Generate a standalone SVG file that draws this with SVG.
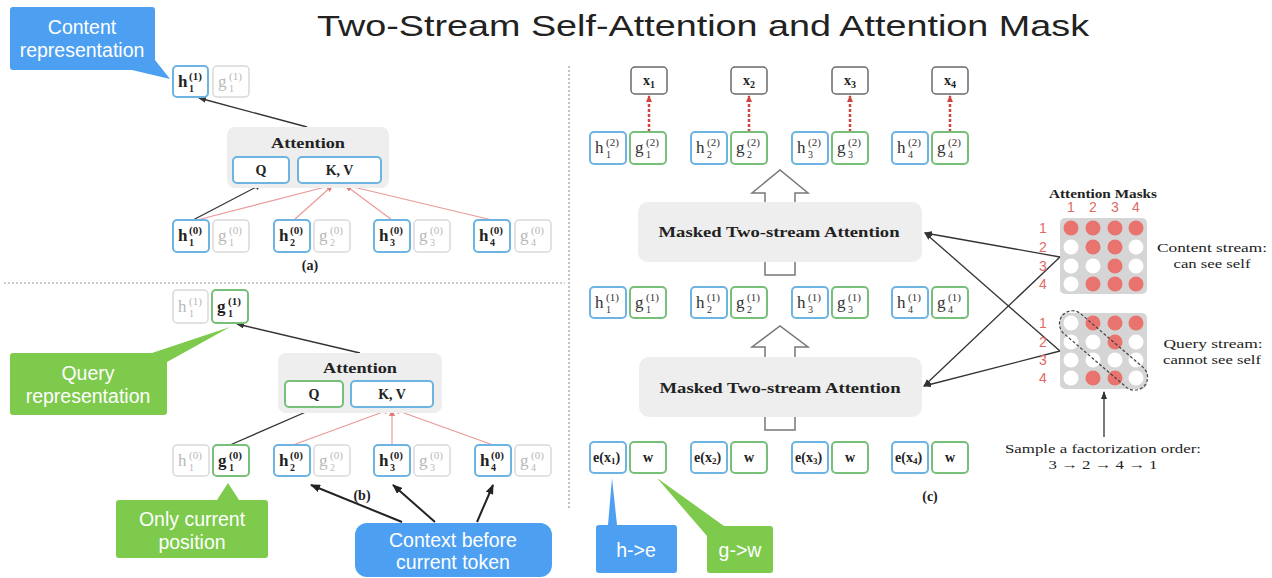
<svg xmlns="http://www.w3.org/2000/svg" width="1272" height="578" viewBox="0 0 1272 578">
<defs>
<style>
.hb{fill:#fff;stroke:#6db4e2;stroke-width:2}
.gb{fill:#fff;stroke:#78c07a;stroke-width:2}
.fb{fill:#fff;stroke:#d9d9d9;stroke-width:1.5}
.xb{fill:#fff;stroke:#6a6a6a;stroke-width:1.5}
.att{fill:#eeeeee}
.m{font-family:"Liberation Serif",serif;font-weight:bold;font-size:17px;fill:#222}
.sp{font-family:"Liberation Serif",serif;font-weight:bold;font-size:11px;fill:#222}
.sb{font-family:"Liberation Serif",serif;font-weight:bold;font-size:10px;fill:#222}
.fd{fill:#b8b8b8;font-weight:normal}
.nw{fill:#333;font-weight:normal}
.lb{font-family:"Liberation Serif",serif;font-weight:bold;font-size:14px;fill:#222}
.ser{font-family:"Liberation Serif",serif;font-size:13.5px;fill:#222}
.call{font-family:"Liberation Sans",sans-serif;font-size:19.5px;fill:#fff;text-anchor:middle}
.blk{stroke:#333;stroke-width:1.3;fill:none}
.red{stroke:#e99a98;stroke-width:1.2;fill:none}
.thick{stroke:#222;stroke-width:2;fill:none}
.rdash{stroke:#d0463f;stroke-width:2.5;stroke-dasharray:3 2;fill:none}
.sep{stroke:#9a9a9a;stroke-width:1.2;stroke-dasharray:2 2;fill:none}
.num{font-family:"Liberation Sans",sans-serif;font-size:14px;fill:#e06a66;text-anchor:middle}
.rc{fill:#e8736f}
.wc{fill:#fff}
</style>
<marker id="ab" markerWidth="8" markerHeight="6" refX="7" refY="3" orient="auto" markerUnits="userSpaceOnUse"><path d="M0,0 L8,3 L0,6 z" fill="#333"/></marker>
<marker id="ar" markerWidth="8" markerHeight="6" refX="7" refY="3" orient="auto" markerUnits="userSpaceOnUse"><path d="M0,0 L8,3 L0,6 z" fill="#e07c7a"/></marker>
<marker id="ard" markerWidth="7" markerHeight="6" refX="6" refY="3" orient="auto" markerUnits="userSpaceOnUse"><path d="M0,0 L7,3 L0,6 z" fill="#d0463f"/></marker>
<marker id="abk" markerWidth="10" markerHeight="8" refX="9" refY="4" orient="auto" markerUnits="userSpaceOnUse"><path d="M0,0 L10,4 L0,8 z" fill="#222"/></marker>
</defs>

<text x="703" y="36" font-family="'Liberation Sans',sans-serif" font-size="30" fill="#222" text-anchor="middle" textLength="772" lengthAdjust="spacingAndGlyphs">Two-Stream Self-Attention and Attention Mask</text>

<!-- separators -->
<g id="separators">
<line class="sep" x1="4" y1="283" x2="565" y2="283"/>
<line class="sep" x1="569" y1="66" x2="569" y2="510"/>
</g>

<!-- connectors -->
<g id="connectors">
<line class="blk" x1="307" y1="127" x2="199" y2="98" marker-end="url(#ab)"/>
<line class="blk" x1="193" y1="220" x2="262" y2="184" marker-end="url(#ab)"/>
<line class="red" x1="197" y1="220" x2="333" y2="185" marker-end="url(#ar)"/>
<line class="red" x1="294" y1="220" x2="333" y2="185" marker-end="url(#ar)"/>
<line class="red" x1="392" y1="220" x2="345" y2="185" marker-end="url(#ar)"/>
<line class="red" x1="492" y1="220" x2="345" y2="185" marker-end="url(#ar)"/>

<line class="blk" x1="360" y1="353" x2="237" y2="324" marker-end="url(#ab)"/>
<line class="blk" x1="230" y1="445" x2="315" y2="408" marker-end="url(#ab)"/>
<line class="red" x1="293" y1="445" x2="391" y2="409" marker-end="url(#ar)"/>
<line class="red" x1="392" y1="445" x2="392" y2="409" marker-end="url(#ar)"/>
<line class="red" x1="493" y1="445" x2="393" y2="409" marker-end="url(#ar)"/>

<line class="thick" x1="402" y1="522" x2="311" y2="485" marker-end="url(#abk)"/>
<line class="thick" x1="435" y1="522" x2="393" y2="485" marker-end="url(#abk)"/>
<line class="thick" x1="477" y1="522" x2="493" y2="485" marker-end="url(#abk)"/>

<line class="rdash" x1="649" y1="132" x2="649" y2="96" marker-end="url(#ard)"/>
<line class="rdash" x1="749" y1="132" x2="749" y2="96" marker-end="url(#ard)"/>
<line class="rdash" x1="850" y1="132" x2="850" y2="96" marker-end="url(#ard)"/>
<line class="rdash" x1="950" y1="132" x2="950" y2="96" marker-end="url(#ard)"/>

<polygon points="765,275 765,193 752,193 780,170 808,193 795,193 795,275" fill="#fff" stroke="#777" stroke-width="1.5"/>
<polygon points="765,430 765,347 752,347 780,326 808,347 795,347 795,430" fill="#fff" stroke="#777" stroke-width="1.5"/>

<line class="blk" x1="1060" y1="257" x2="925" y2="233" marker-end="url(#ab)"/>
<line class="blk" x1="1060" y1="351" x2="925" y2="233" marker-end="url(#ab)"/>
<line class="blk" x1="1060" y1="257" x2="924" y2="386" marker-end="url(#ab)"/>
<line class="blk" x1="1060" y1="351" x2="924" y2="386" marker-end="url(#ab)"/>
<line class="blk" x1="1104" y1="437" x2="1104" y2="392" marker-end="url(#ab)"/>
</g>

<!-- callouts -->
<g id="callout-content">
<path d="M13,7 H152 Q155,7 155,10 V60 L170,79 L132,70 H13 Q10,70 10,67 V10 Q10,7 13,7 Z" fill="#4d9ff2"/>
<text class="call" x="82" y="34">Content</text>
<text class="call" x="82" y="57">representation</text>
</g>
<g id="callout-query">
<path d="M13,353 H152 L230,327 L167,362 V412 Q167,415 164,415 H13 Q10,415 10,412 V356 Q10,353 13,353 Z" fill="#7dca4c"/>
<text class="call" x="88" y="380">Query</text>
<text class="call" x="88" y="403">representation</text>
</g>
<g id="callout-only">
<path d="M119,500 H217 L228,483 L239,500 H265 Q268,500 268,503 V555 Q268,558 265,558 H119 Q116,558 116,555 V503 Q116,500 119,500 Z" fill="#7dca4c"/>
<text class="call" x="192" y="526">Only current</text>
<text class="call" x="192" y="549">position</text>
</g>
<g id="callout-context">
<rect x="355" y="523" width="197" height="54" rx="12" fill="#4d9ff2"/>
<text class="call" x="453" y="547">Context before</text>
<text class="call" x="453" y="569">current token</text>
</g>
<g id="callout-he">
<path d="M608,525 L612,478 L617,525 H674 Q677,525 677,528 V570 Q677,573 674,573 H599 Q596,573 596,570 V528 Q596,525 599,525 Z" fill="#4d9ff2"/>
<text class="call" x="636" y="557">h-&gt;e</text>
</g>
<g id="callout-gw">
<path d="M657,478 L724,526 H770 Q773,526 773,529 V570 Q773,573 770,573 H710 Q707,573 707,570 V536 Z" fill="#7dca4c"/>
<text class="call" x="740" y="557">g-&gt;w</text>
</g>

<!-- (a) -->
<g id="a-attention">
<rect class="att" x="227" y="127" width="162" height="61" rx="8"/>
<text class="lb" x="308" y="148" text-anchor="middle" font-size="15" textLength="74" lengthAdjust="spacingAndGlyphs">Attention</text>
<rect class="hb" x="233" y="157" width="56" height="26" rx="4"/>
<text class="lb" x="261" y="175" text-anchor="middle">Q</text>
<rect class="hb" x="298" y="157" width="83" height="26" rx="4"/>
<text class="lb" x="339.5" y="175" text-anchor="middle">K, V</text>
</g>
<g id="a-h1-1"><rect class="hb" x="173" y="66" width="35" height="31" rx="4"/><text class="m" x="178" y="87">h</text><text class="sp" x="189" y="80">(1)</text><text class="sb" x="189" y="92">1</text></g>
<g id="a-g1-1"><rect class="fb" x="213" y="66" width="36" height="31" rx="4"/><text class="m fd" x="218" y="87">g</text><text class="sp fd" x="229" y="80">(1)</text><text class="sb fd" x="229" y="92">1</text></g>
<g id="a-h1-0"><rect class="hb" x="173" y="220" width="36" height="32" rx="4"/><text class="m" x="178" y="241">h</text><text class="sp" x="189" y="234">(0)</text><text class="sb" x="189" y="246">1</text></g>
<g id="a-g1-0"><rect class="fb" x="213" y="220" width="36" height="32" rx="4"/><text class="m fd" x="218" y="241">g</text><text class="sp fd" x="229" y="234">(0)</text><text class="sb fd" x="229" y="246">1</text></g>
<g id="a-h2-0"><rect class="hb" x="274" y="220" width="36" height="32" rx="4"/><text class="m" x="279" y="241">h</text><text class="sp" x="290" y="234">(0)</text><text class="sb" x="290" y="246">2</text></g>
<g id="a-g2-0"><rect class="fb" x="314" y="220" width="36" height="32" rx="4"/><text class="m fd" x="319" y="241">g</text><text class="sp fd" x="330" y="234">(0)</text><text class="sb fd" x="330" y="246">2</text></g>
<g id="a-h3-0"><rect class="hb" x="374" y="220" width="36" height="32" rx="4"/><text class="m" x="379" y="241">h</text><text class="sp" x="390" y="234">(0)</text><text class="sb" x="390" y="246">3</text></g>
<g id="a-g3-0"><rect class="fb" x="414" y="220" width="36" height="32" rx="4"/><text class="m fd" x="419" y="241">g</text><text class="sp fd" x="430" y="234">(0)</text><text class="sb fd" x="430" y="246">3</text></g>
<g id="a-h4-0"><rect class="hb" x="474" y="220" width="36" height="32" rx="4"/><text class="m" x="479" y="241">h</text><text class="sp" x="490" y="234">(0)</text><text class="sb" x="490" y="246">4</text></g>
<g id="a-g4-0"><rect class="fb" x="515" y="220" width="36" height="32" rx="4"/><text class="m fd" x="520" y="241">g</text><text class="sp fd" x="531" y="234">(0)</text><text class="sb fd" x="531" y="246">4</text></g>
<text class="lb" x="310" y="270" text-anchor="middle" font-size="13">(a)</text>

<!-- (b) -->
<g id="b-attention">
<rect class="att" x="278" y="353" width="164" height="60" rx="8"/>
<text class="lb" x="360" y="373" text-anchor="middle" font-size="15" textLength="74" lengthAdjust="spacingAndGlyphs">Attention</text>
<rect class="gb" x="285" y="381" width="58" height="26" rx="4"/>
<text class="lb" x="314" y="399" text-anchor="middle">Q</text>
<rect class="hb" x="351" y="381" width="82" height="26" rx="4"/>
<text class="lb" x="392" y="399" text-anchor="middle">K, V</text>
</g>
<g id="b-h1-1"><rect class="fb" x="173" y="290" width="35" height="33" rx="4"/><text class="m fd" x="178" y="312">h</text><text class="sp fd" x="189" y="305">(1)</text><text class="sb fd" x="189" y="317">1</text></g>
<g id="b-g1-1"><rect class="gb" x="212" y="290" width="36" height="33" rx="4"/><text class="m" x="217" y="312">g</text><text class="sp" x="228" y="305">(1)</text><text class="sb" x="228" y="317">1</text></g>
<g id="b-h1-0"><rect class="fb" x="173" y="445" width="36" height="31" rx="4"/><text class="m fd" x="178" y="466">h</text><text class="sp fd" x="189" y="459">(0)</text><text class="sb fd" x="189" y="471">1</text></g>
<g id="b-g1-0"><rect class="gb" x="213" y="445" width="36" height="31" rx="4"/><text class="m" x="218" y="466">g</text><text class="sp" x="229" y="459">(0)</text><text class="sb" x="229" y="471">1</text></g>
<g id="b-h2-0"><rect class="hb" x="274" y="445" width="36" height="31" rx="4"/><text class="m" x="279" y="466">h</text><text class="sp" x="290" y="459">(0)</text><text class="sb" x="290" y="471">2</text></g>
<g id="b-g2-0"><rect class="fb" x="314" y="445" width="36" height="31" rx="4"/><text class="m fd" x="319" y="466">g</text><text class="sp fd" x="330" y="459">(0)</text><text class="sb fd" x="330" y="471">2</text></g>
<g id="b-h3-0"><rect class="hb" x="374" y="445" width="36" height="31" rx="4"/><text class="m" x="379" y="466">h</text><text class="sp" x="390" y="459">(0)</text><text class="sb" x="390" y="471">3</text></g>
<g id="b-g3-0"><rect class="fb" x="414" y="445" width="36" height="31" rx="4"/><text class="m fd" x="419" y="466">g</text><text class="sp fd" x="430" y="459">(0)</text><text class="sb fd" x="430" y="471">3</text></g>
<g id="b-h4-0"><rect class="hb" x="475" y="445" width="36" height="31" rx="4"/><text class="m" x="480" y="466">h</text><text class="sp" x="491" y="459">(0)</text><text class="sb" x="491" y="471">4</text></g>
<g id="b-g4-0"><rect class="fb" x="515" y="445" width="36" height="31" rx="4"/><text class="m fd" x="520" y="466">g</text><text class="sp fd" x="531" y="459">(0)</text><text class="sb fd" x="531" y="471">4</text></g>
<text class="lb" x="362" y="500" text-anchor="middle" font-size="13">(b)</text>

<!-- (c) -->
<g id="c-x1"><rect class="xb" x="631" y="67" width="36" height="27" rx="4"/><text class="lb" x="643" y="85" font-size="15">x<tspan font-size="10" dy="3">1</tspan></text></g>
<g id="c-x2"><rect class="xb" x="731" y="67" width="36" height="27" rx="4"/><text class="lb" x="743" y="85" font-size="15">x<tspan font-size="10" dy="3">2</tspan></text></g>
<g id="c-x3"><rect class="xb" x="832" y="67" width="36" height="27" rx="4"/><text class="lb" x="844" y="85" font-size="15">x<tspan font-size="10" dy="3">3</tspan></text></g>
<g id="c-x4"><rect class="xb" x="932" y="67" width="36" height="27" rx="4"/><text class="lb" x="944" y="85" font-size="15">x<tspan font-size="10" dy="3">4</tspan></text></g>

<g id="c-h1-2"><rect class="hb" x="590" y="132" width="36" height="32" rx="4"/><text class="m nw" x="595" y="153">h</text><text class="sp nw" x="606" y="146">(2)</text><text class="sb nw" x="606" y="158">1</text></g>
<g id="c-g1-2"><rect class="gb" x="630" y="132" width="36" height="32" rx="4"/><text class="m nw" x="635" y="153">g</text><text class="sp nw" x="646" y="146">(2)</text><text class="sb nw" x="646" y="158">1</text></g>
<g id="c-h2-2"><rect class="hb" x="691" y="132" width="36" height="32" rx="4"/><text class="m nw" x="696" y="153">h</text><text class="sp nw" x="707" y="146">(2)</text><text class="sb nw" x="707" y="158">2</text></g>
<g id="c-g2-2"><rect class="gb" x="731" y="132" width="36" height="32" rx="4"/><text class="m nw" x="736" y="153">g</text><text class="sp nw" x="747" y="146">(2)</text><text class="sb nw" x="747" y="158">2</text></g>
<g id="c-h3-2"><rect class="hb" x="792" y="132" width="36" height="32" rx="4"/><text class="m nw" x="797" y="153">h</text><text class="sp nw" x="808" y="146">(2)</text><text class="sb nw" x="808" y="158">3</text></g>
<g id="c-g3-2"><rect class="gb" x="832" y="132" width="36" height="32" rx="4"/><text class="m nw" x="837" y="153">g</text><text class="sp nw" x="848" y="146">(2)</text><text class="sb nw" x="848" y="158">3</text></g>
<g id="c-h4-2"><rect class="hb" x="892" y="132" width="36" height="32" rx="4"/><text class="m nw" x="897" y="153">h</text><text class="sp nw" x="908" y="146">(2)</text><text class="sb nw" x="908" y="158">4</text></g>
<g id="c-g4-2"><rect class="gb" x="932" y="132" width="36" height="32" rx="4"/><text class="m nw" x="937" y="153">g</text><text class="sp nw" x="948" y="146">(2)</text><text class="sb nw" x="948" y="158">4</text></g>

<g id="c-masked-2">
<rect class="att" x="638" y="202" width="284" height="60" rx="10"/>
<text class="lb" x="779" y="237" text-anchor="middle" font-size="15" textLength="241" lengthAdjust="spacingAndGlyphs">Masked Two-stream Attention</text>
</g>

<g id="c-h1-1"><rect class="hb" x="590" y="287" width="36" height="31" rx="4"/><text class="m nw" x="595" y="308">h</text><text class="sp nw" x="606" y="301">(1)</text><text class="sb nw" x="606" y="313">1</text></g>
<g id="c-g1-1"><rect class="gb" x="630" y="287" width="36" height="31" rx="4"/><text class="m nw" x="635" y="308">g</text><text class="sp nw" x="646" y="301">(1)</text><text class="sb nw" x="646" y="313">1</text></g>
<g id="c-h2-1"><rect class="hb" x="691" y="287" width="36" height="31" rx="4"/><text class="m nw" x="696" y="308">h</text><text class="sp nw" x="707" y="301">(1)</text><text class="sb nw" x="707" y="313">2</text></g>
<g id="c-g2-1"><rect class="gb" x="731" y="287" width="36" height="31" rx="4"/><text class="m nw" x="736" y="308">g</text><text class="sp nw" x="747" y="301">(1)</text><text class="sb nw" x="747" y="313">2</text></g>
<g id="c-h3-1"><rect class="hb" x="792" y="287" width="36" height="31" rx="4"/><text class="m nw" x="797" y="308">h</text><text class="sp nw" x="808" y="301">(1)</text><text class="sb nw" x="808" y="313">3</text></g>
<g id="c-g3-1"><rect class="gb" x="832" y="287" width="36" height="31" rx="4"/><text class="m nw" x="837" y="308">g</text><text class="sp nw" x="848" y="301">(1)</text><text class="sb nw" x="848" y="313">3</text></g>
<g id="c-h4-1"><rect class="hb" x="892" y="287" width="36" height="31" rx="4"/><text class="m nw" x="897" y="308">h</text><text class="sp nw" x="908" y="301">(1)</text><text class="sb nw" x="908" y="313">4</text></g>
<g id="c-g4-1"><rect class="gb" x="932" y="287" width="36" height="31" rx="4"/><text class="m nw" x="937" y="308">g</text><text class="sp nw" x="948" y="301">(1)</text><text class="sb nw" x="948" y="313">4</text></g>

<g id="c-masked-1">
<rect class="att" x="639" y="357" width="283" height="60" rx="10"/>
<text class="lb" x="780" y="393" text-anchor="middle" font-size="15" textLength="241" lengthAdjust="spacingAndGlyphs">Masked Two-stream Attention</text>
</g>

<g id="c-e1"><rect class="hb" x="590" y="442" width="36" height="31" rx="4"/><text class="lb" x="593" y="462" font-size="13">e(x<tspan font-size="9" dy="2">1</tspan><tspan dy="-2">)</tspan></text></g>
<g id="c-w1"><rect class="gb" x="630" y="442" width="36" height="31" rx="4"/><text class="lb" x="648" y="462" text-anchor="middle">w</text></g>
<g id="c-e2"><rect class="hb" x="691" y="442" width="36" height="31" rx="4"/><text class="lb" x="694" y="462" font-size="13">e(x<tspan font-size="9" dy="2">2</tspan><tspan dy="-2">)</tspan></text></g>
<g id="c-w2"><rect class="gb" x="731" y="442" width="36" height="31" rx="4"/><text class="lb" x="749" y="462" text-anchor="middle">w</text></g>
<g id="c-e3"><rect class="hb" x="792" y="442" width="36" height="31" rx="4"/><text class="lb" x="795" y="462" font-size="13">e(x<tspan font-size="9" dy="2">3</tspan><tspan dy="-2">)</tspan></text></g>
<g id="c-w3"><rect class="gb" x="832" y="442" width="36" height="31" rx="4"/><text class="lb" x="850" y="462" text-anchor="middle">w</text></g>
<g id="c-e4"><rect class="hb" x="892" y="442" width="36" height="31" rx="4"/><text class="lb" x="895" y="462" font-size="13">e(x<tspan font-size="9" dy="2">4</tspan><tspan dy="-2">)</tspan></text></g>
<g id="c-w4"><rect class="gb" x="932" y="442" width="36" height="31" rx="4"/><text class="lb" x="950" y="462" text-anchor="middle">w</text></g>
<text class="lb" x="930" y="501" text-anchor="middle" font-size="13">(c)</text>

<!-- attention masks -->
<g id="masks-title">
<text class="ser" x="1103" y="198" text-anchor="middle" font-weight="bold" textLength="108" lengthAdjust="spacingAndGlyphs">Attention Masks</text>
<text class="num" x="1071" y="212">1</text><text class="num" x="1093" y="212">2</text><text class="num" x="1115" y="212">3</text><text class="num" x="1136" y="212">4</text>
</g>
<g id="mask-content">
<rect x="1060" y="218" width="87" height="76" rx="5" fill="#d5d5d5"/>
<text class="num" x="1043" y="233">1</text><text class="num" x="1043" y="252">2</text><text class="num" x="1043" y="271">3</text><text class="num" x="1043" y="289">4</text>
<circle class="rc" cx="1071" cy="228" r="7.5"/><circle class="rc" cx="1093" cy="228" r="7.5"/><circle class="rc" cx="1115" cy="228" r="7.5"/><circle class="rc" cx="1136" cy="228" r="7.5"/>
<circle class="wc" cx="1071" cy="247" r="7.5"/><circle class="rc" cx="1093" cy="247" r="7.5"/><circle class="rc" cx="1115" cy="247" r="7.5"/><circle class="wc" cx="1136" cy="247" r="7.5"/>
<circle class="wc" cx="1071" cy="266" r="7.5"/><circle class="wc" cx="1093" cy="266" r="7.5"/><circle class="rc" cx="1115" cy="266" r="7.5"/><circle class="wc" cx="1136" cy="266" r="7.5"/>
<circle class="wc" cx="1071" cy="284" r="7.5"/><circle class="rc" cx="1093" cy="284" r="7.5"/><circle class="rc" cx="1115" cy="284" r="7.5"/><circle class="rc" cx="1136" cy="284" r="7.5"/>
<text class="ser" x="1212" y="252" text-anchor="middle" textLength="110" lengthAdjust="spacingAndGlyphs">Content stream:</text>
<text class="ser" x="1212" y="268" text-anchor="middle" textLength="77" lengthAdjust="spacingAndGlyphs">can see self</text>
</g>
<g id="mask-query">
<rect x="1060" y="313" width="87" height="76" rx="5" fill="#d5d5d5"/>
<text class="num" x="1043" y="328">1</text><text class="num" x="1043" y="347">2</text><text class="num" x="1043" y="365">3</text><text class="num" x="1043" y="383">4</text>
<circle class="wc" cx="1071" cy="323" r="7.5"/><circle class="rc" cx="1093" cy="323" r="7.5"/><circle class="rc" cx="1115" cy="323" r="7.5"/><circle class="rc" cx="1136" cy="323" r="7.5"/>
<circle class="wc" cx="1071" cy="342" r="7.5"/><circle class="wc" cx="1093" cy="342" r="7.5"/><circle class="rc" cx="1115" cy="342" r="7.5"/><circle class="wc" cx="1136" cy="342" r="7.5"/>
<circle class="wc" cx="1071" cy="360" r="7.5"/><circle class="wc" cx="1093" cy="360" r="7.5"/><circle class="wc" cx="1115" cy="360" r="7.5"/><circle class="wc" cx="1136" cy="360" r="7.5"/>
<circle class="wc" cx="1071" cy="378" r="7.5"/><circle class="rc" cx="1093" cy="378" r="7.5"/><circle class="rc" cx="1115" cy="378" r="7.5"/><circle class="wc" cx="1136" cy="378" r="7.5"/>
<rect x="1049.5" y="337.5" width="108" height="26" rx="13" transform="rotate(40.7 1103.5 350.5)" fill="none" stroke="#444" stroke-width="1.2" stroke-dasharray="3 2"/>
<text class="ser" x="1213" y="348" text-anchor="middle" textLength="99" lengthAdjust="spacingAndGlyphs">Query stream:</text>
<text class="ser" x="1212" y="364" text-anchor="middle" textLength="98" lengthAdjust="spacingAndGlyphs">cannot see self</text>
</g>
<g id="sample-order">
<text class="ser" x="1103" y="453" text-anchor="middle" textLength="196" lengthAdjust="spacingAndGlyphs">Sample a factorization order:</text>
<text class="ser" x="1103" y="469" text-anchor="middle" textLength="109" lengthAdjust="spacingAndGlyphs">3 → 2 → 4 → 1</text>
</g>
</svg>
